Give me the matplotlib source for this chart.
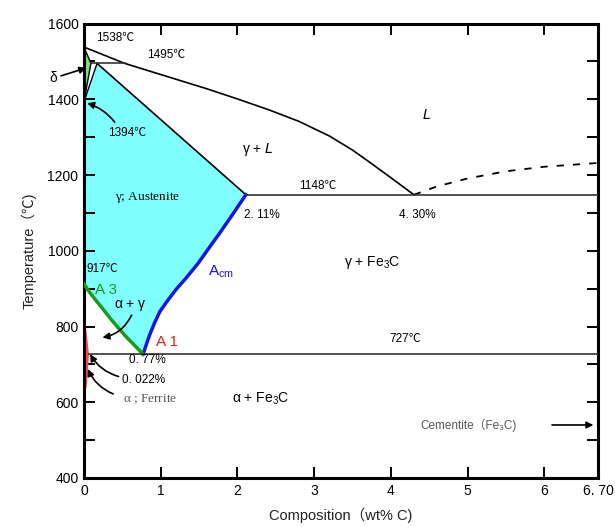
import numpy as np
import matplotlib
matplotlib.use("Agg")
import matplotlib.pyplot as plt
from matplotlib.ticker import MultipleLocator

plt.rcParams['font.family'] = ['Liberation Sans', 'Noto Sans CJK JP', 'DejaVu Sans']
plt.rcParams['mathtext.default'] = 'regular'

# phase boundaries (wt% C, deg C)
delta_x = [0, 0.09, 0]
delta_t = [1538, 1495, 1394]

liq_x = [0, 0.53, 0.8, 1.2, 1.6, 2.0, 2.4, 2.8, 3.2, 3.5, 3.75, 4.0, 4.3]
liq_t = [1538, 1495, 1478, 1453, 1428, 1401, 1373, 1342, 1303, 1266, 1230, 1193, 1148]

sol_x = [0.17, 2.11]
sol_t = [1495, 1148]

acm_x = [2.11, 1.95, 1.78, 1.62, 1.48, 1.33, 1.2, 1.08, 0.99, 0.92, 0.85, 0.77]
acm_t = [1148, 1100, 1050, 1005, 965, 928, 898, 866, 840, 810, 775, 727]

a3_x = [0.77, 0.66, 0.54, 0.44, 0.34, 0.24, 0.14, 0.06, 0]
a3_t = [727, 750, 775, 798, 822, 848, 873, 894, 912]

gl_left_x = [0, 0.17]
gl_left_t = [1394, 1495]

ferrite_x = [0, 0.065, 0.035, 0]
ferrite_t = [845, 727, 640, 625]

dash_x = [4.3, 4.6, 5.0, 5.5, 6.0, 6.7]
dash_t = [1148, 1170, 1191, 1210, 1222, 1232]

peritectic = (1495, 0.09, 0.53)
eutectic = (1148, 2.11, 6.7)
eutectoid = (727, 0.065, 6.7)

xticks = [0, 1, 2, 3, 4, 5, 6, 6.7]
xlabels = ['0', '1', '2', '3', '4', '5', '6', '6. 70']
yticks = [400, 600, 800, 1000, 1200, 1400, 1600]

fig = plt.figure(figsize=(6.15, 5.27), dpi=100)
ax = fig.add_axes([0.1366, 0.093, 0.8358, 0.8622])

# austenite region
gx = [0] + gl_left_x[1:] + sol_x[1:] + acm_x[1:] + a3_x[1:]
gt = [1394] + gl_left_t[1:] + sol_t[1:] + acm_t[1:] + a3_t[1:]
ax.fill(gx, gt, color='#80ffff', lw=0, zorder=1)
ax.fill(delta_x, delta_t, color='#80e080', edgecolor='black', lw=1, zorder=2)
ax.fill(ferrite_x, ferrite_t, color='#e85050', lw=0, zorder=2)

ax.plot(liq_x, liq_t, color='black', lw=1.2, zorder=3)
ax.plot(sol_x, sol_t, color='black', lw=1.2, zorder=3)
ax.plot(gl_left_x, gl_left_t, color='black', lw=1.0, zorder=3)
ax.plot(acm_x, acm_t, color='#1515e0', lw=2.5, zorder=3)
ax.plot(a3_x, a3_t, color='#1a9a1a', lw=2.5, zorder=3)
ax.plot(dash_x, dash_t, color='black', lw=1.3, ls=(0, (4, 5)), zorder=3)
for t, x0, x1 in (peritectic, eutectic, eutectoid):
    ax.plot([x0, x1], [t, t], color='#333333', lw=1.2, zorder=3)

ax.set_xlim(0, 6.7)
ax.set_ylim(400, 1600)
ax.set_xticks(xticks)
ax.set_xticklabels(xlabels)
ax.set_yticks(yticks)
ax.yaxis.set_minor_locator(MultipleLocator(100))
ax.tick_params(which='both', direction='in', length=8, width=1.4,
               top=True, right=True, labelsize=10, pad=4)
for s in ax.spines.values():
    s.set_linewidth(2.2)

ax.set_xlabel('Composition（wt% C)', fontsize=10.5, labelpad=7, color='#222222')
ax.set_ylabel('Temperature（\u2103)', fontsize=10.5, labelpad=8, color='#222222')

arrow = dict(arrowstyle='-|>', color='black', lw=1.2, shrinkA=0, shrinkB=0)

fs = 8.5
ax.text(0.16, 1561, '1538\u2103', fontsize=fs, va='center')
ax.text(0.82, 1517, '1495\u2103', fontsize=fs, va='center')
ax.text(-0.4, 1458, r'$\delta$', fontsize=10, ha='center', va='center')
ax.annotate('', xy=(0.03, 1483), xytext=(-0.3, 1462), annotation_clip=False,
            arrowprops=arrow)
ax.text(0.31, 1310, '1394\u2103', fontsize=fs, va='center')
ax.annotate('', xy=(0.04, 1390), xytext=(0.4, 1340),
            arrowprops=dict(arrow, connectionstyle='arc3,rad=0.15'))
ax.text(2.26, 1268, r'$\gamma$ + $\it{L}$', fontsize=10, ha='center', va='center')
ax.text(4.47, 1359, r'$\it{L}$', fontsize=10, ha='center', va='center')
ax.text(0.83, 1141, r'$\gamma$; Austenite', fontsize=9.5, ha='center',
        va='center', family=['Liberation Serif', 'DejaVu Serif'])
ax.text(3.04, 1170, '1148\u2103', fontsize=fs, ha='center', va='center')
ax.text(2.32, 1095, '2. 11%', fontsize=fs, ha='center', va='center')
ax.text(4.34, 1095, '4. 30%', fontsize=fs, ha='center', va='center')
ax.text(0.03, 952, '917\u2103', fontsize=fs, va='center')
ax.text(1.79, 945, r'A$_{cm}$', fontsize=11, ha='center', va='center',
        color='#1515e0')
ax.text(3.75, 970, r'$\gamma$ + Fe$_3$C', fontsize=10, ha='center', va='center')
ax.text(0.14, 897, 'A 3', fontsize=11, va='center', color='#1a9a1a')
ax.text(0.6, 856, r'$\alpha$ + $\gamma$', fontsize=10, ha='center', va='center')
ax.annotate('', xy=(0.24, 771), xytext=(0.62, 830),
            arrowprops=dict(arrow, connectionstyle='arc3,rad=-0.25'))
ax.text(1.08, 758, 'A 1', fontsize=11, ha='center', va='center', color='#e02020')
ax.text(0.82, 711, '0. 77%', fontsize=fs, ha='center', va='center')
ax.text(4.19, 766, '727\u2103', fontsize=fs, ha='center', va='center')
ax.text(0.77, 660, '0. 022%', fontsize=fs, ha='center', va='center')
ax.annotate('', xy=(0.08, 727), xytext=(0.45, 668),
            arrowprops=dict(arrow, connectionstyle='arc3,rad=-0.2'))
ax.text(0.86, 608, r'$\alpha$ ; Ferrite', fontsize=9.5, ha='center',
        va='center', color='#555555',
        family=['Liberation Serif', 'DejaVu Serif'])
ax.annotate('', xy=(0.05, 688), xytext=(0.38, 622),
            arrowprops=dict(arrow, connectionstyle='arc3,rad=-0.2'))
ax.text(2.31, 608, r'$\alpha$ + Fe$_3$C', fontsize=10, ha='center', va='center')
ax.text(5.01, 540, 'Cementite（Fe\u2083C)', fontsize=8.5, ha='center',
        va='center', color='#555555')
ax.annotate('', xy=(6.64, 540), xytext=(6.1, 540), arrowprops=arrow)

plt.savefig('out.png', dpi=100)
